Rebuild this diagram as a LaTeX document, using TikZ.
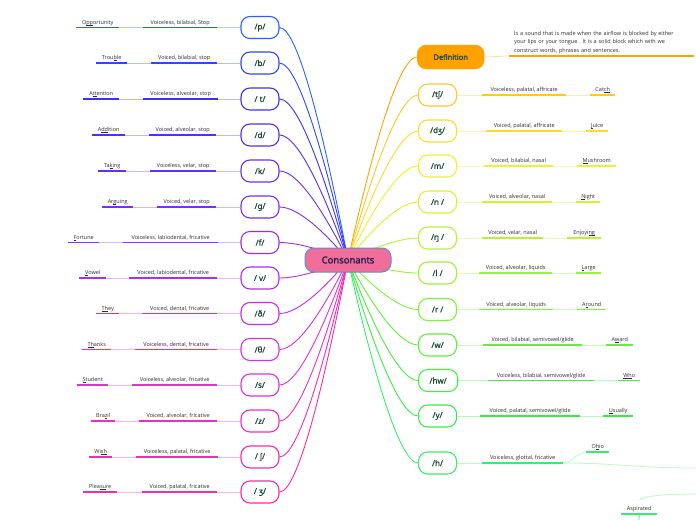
\documentclass[tikz,border=0pt]{standalone}
\usepackage{fontspec}
\setmainfont{Open Sans}[AutoFakeBold=2]
\newfontfamily\ipafont{Noto Sans}[FakeBold=1.2]
\usetikzlibrary{calc}
% left colours
\definecolor{cp}{HTML}{2B5EFF}
\definecolor{cb}{HTML}{2E48F8}
\definecolor{ct}{HTML}{3A33F0}
\definecolor{cd}{HTML}{5230EE}
\definecolor{ck}{HTML}{6630F0}
\definecolor{cg}{HTML}{7A2EF0}
\definecolor{cf}{HTML}{982EF0}
\definecolor{cv}{HTML}{AE2EF0}
\definecolor{cdh}{HTML}{C22EF0}
\definecolor{cth}{HTML}{D530E8}
\definecolor{cs}{HTML}{E52EDA}
\definecolor{cz}{HTML}{F02CC8}
\definecolor{csh}{HTML}{F52AB5}
\definecolor{czh}{HTML}{FA2AA0}
% right colours
\definecolor{cdef}{HTML}{FFA200}
\definecolor{cch}{HTML}{FFC52A}
\definecolor{cdj}{HTML}{FFDC2A}
\definecolor{cm}{HTML}{F2F02A}
\definecolor{cn}{HTML}{D5F52A}
\definecolor{cng}{HTML}{B5F530}
\definecolor{cl}{HTML}{98F532}
\definecolor{cr}{HTML}{7CF535}
\definecolor{cw}{HTML}{5EF23C}
\definecolor{chw}{HTML}{45F040}
\definecolor{cy}{HTML}{35EE45}
\definecolor{ch}{HTML}{38EE68}
% others
\definecolor{labc}{HTML}{1C4A36}
\definecolor{txtc}{HTML}{2E2E2E}
\definecolor{cpink}{HTML}{F06E9A}
\definecolor{cblue}{HTML}{5B8FC9}
\definecolor{cnavy}{HTML}{1F1F4F}
\tikzset{
 lbox/.style={draw=#1, fill=white, line width=1.1pt, rounded corners=9pt,
   minimum width=38pt, minimum height=22pt, inner xsep=11pt,
   font=\ipafont\fontsize{8}{9}\selectfont, text=labc},
 txt/.style={font=\fontsize{5.5}{6}\selectfont, text=txtc, inner xsep=0pt,
   inner ysep=2pt, text height=4pt, text depth=1pt, anchor=south west},
 uline/.style={draw=#1, line width=1.6pt},
 lline/.style={draw=#1!35, line width=0.8pt},
 conn/.style={draw=#1, line width=0.9pt},
}
\newcommand\ul[1]{\setbox0\hbox{#1}\rlap{\rule[-0.7pt]{\wd0}{0.35pt}}\box0}
\newcommand\leftitem[9]{%
 \node[lbox=c#1] (#1) at (260,#2) {#3};
 \node[txt, minimum width={#6-#5}] (#1d) at (#5,#2) {#4};
 \node[txt, minimum width={#9-#8}] (#1e) at (#8,#2) {#7};
 \draw[uline=c#1] (#1d.south west) -- (#1d.south east);
 \draw[uline=c#1] (#1e.south west) -- (#1e.south east);
 \draw[lline=c#1] (#1.west) -- (#1d.south east);
 \draw[lline=c#1] (#1d.south west) -- (#1e.south east);
 \draw[conn=c#1] (#1.east) .. controls +(20,0) and +(-20,{-(260-#2)*0.45}) .. (cc);
}
\newcommand\rightitem[9]{%
 \node[lbox=c#1, anchor=west] (#1) at (418,#2) {#3};
 \node[txt, minimum width={#6-#5}] (#1d) at (#5,#2) {#4};
 \node[txt, minimum width={#9-#8}] (#1e) at (#8,#2) {#7};
 \draw[uline=c#1] (#1d.south west) -- (#1d.south east);
 \draw[uline=c#1] (#1e.south west) -- (#1e.south east);
 \draw[lline=c#1] (#1.east) -- (#1d.south west);
 \draw[lline=c#1] (#1d.south east) -- (#1e.south west);
 \draw[conn=c#1] (#1.west) .. controls +(-20,0) and +(20,{-(260-#2)*0.45}) .. (cc);
}
\begin{document}
\begin{tikzpicture}[x=1pt,y=-1pt]
\useasboundingbox (0,0) rectangle (696,520);
\coordinate (cc) at (348,260);
% left side
\leftitem{p}{27.5}{/p/}{Voiceless, bilabial, Stop}{143}{217}{O\ul{pp}ortunity}{76}{119}
\leftitem{b}{63}{/b/}{Voiced, bilabial, stop}{151}{217}{Trou\ul{b}le}{96}{127}
\leftitem{t}{99}{/ t/}{Voiceless, alveolar, stop}{143}{218}{A\ul{tt}ention}{83}{119}
\leftitem{d}{135}{/d/}{Voiced, alveolar, stop}{149}{216}{A\ul{dd}ition}{92}{125}
\leftitem{k}{171}{/k/}{Voiceless, velar, stop}{150}{216}{Ta\ul{k}ing}{98}{126}
\leftitem{g}{207}{/g/}{Voiced, velar, stop}{157}{216}{Ar\ul{g}uing}{102}{133}
\leftitem{f}{242.5}{/f/}{Voiceless, labiodental, fricative}{123}{218}{\ul{F}ortune}{68}{99}
\leftitem{v}{278}{/ v/}{Voiced, labiodental, fricative}{129}{217}{\ul{V}owel}{79}{106}
\leftitem{dh}{313.5}{/ð/}{Voiced, dental, fricative}{142}{217}{\ul{Th}ey}{96}{119}
\leftitem{th}{349.5}{/θ/}{Voiceless, dental, fricative}{135}{217}{\ul{Th}anks}{82}{111}
\leftitem{s}{385}{/s/}{Voiceless, alveolar, fricative}{132}{217}{\ul{S}tudent}{77}{108}
\leftitem{z}{421}{/z/}{Voiced, alveolar, fricative}{139}{217}{Bra\ul{z}il}{91}{115}
\leftitem{sh}{457}{/ ʃ/}{Voiceless, palatal, fricative}{136}{218}{Wi\ul{sh}}{89}{112}
\leftitem{zh}{492}{/ ʒ/}{Voiced, palatal, fricative}{142}{217}{Plea\ul{su}re}{83}{117}
% definition
\node[fill=cdef, draw=cdef, rounded corners=9pt, minimum width=67pt, minimum height=24pt,
  font=\bfseries\fontsize{7.5}{8}\selectfont, text=labc, anchor=west] (def) at (417,57) {Definition};
\node[anchor=south west, text width=175pt, inner xsep=5pt, inner ysep=2pt, align=left,
  font=\fontsize{5.5}{8.5}\selectfont, text=txtc] (deft) at (509,56)
  {Is a sound that is made when the airflow is blocked by either\\
   your lips or your tongue.\ \ It is a solid block which with we\\
   construct words, phrases and sentences.};
\draw[uline=cdef] (deft.south west) -- (deft.south east);
\draw[lline=cdef] (def.east) -- (deft.south west);
\draw[conn=cdef] (def.west) .. controls +(-20,0) and +(20,{-(260-57)*0.45}) .. (cc);
% right side
\rightitem{ch}{95}{/tʃ/}{Voiceless, palatal, affricate}{482}{566}{Cat\ul{ch}}{590}{615}
\rightitem{dj}{131}{/dʒ/}{Voiced, palatal, affricate}{486}{562}{\ul{J}uice}{586}{608}
\rightitem{m}{166}{/m/}{Voiced, bilabial, nasal}{484}{553}{\ul{M}ushroom}{577}{616}
\rightitem{n}{202}{/n /}{Voiced, alveolar, nasal}{482}{552}{\ul{N}ight}{576}{600}
\rightitem{ng}{238}{/ŋ /}{Voiced, velar, nasal}{482}{543}{Enjoyi\ul{ng}}{567}{601}
\rightitem{l}{273}{/l /}{Voiced, alveolar, liquids}{479}{552}{\ul{L}arge}{576}{601}
\rightitem{r}{309.5}{/r /}{Voiced, alveolar, liquids}{479}{553}{A\ul{r}ound}{577}{606}
\rightitem{w}{345}{/w/}{Voiced, bilabial, semivowel/glide}{483}{582}{A\ul{w}ard}{606}{633}
\rightitem{hw}{380.5}{/hw/}{Voiceless, bilabial, semivowel/glide}{488}{594}{\ul{Wh}o}{618}{640}
\rightitem{y}{416}{/y/}{Voiced, palatal, semivowel/glide}{480}{580}{\ul{U}sually}{603}{633}
% /h/ branch
\node[lbox=ch, anchor=west] (h) at (418,463) {/h/};
\node[txt, minimum width=81] (hd) at (482,463) {Voiceless, glottal, fricative};
\node[txt, minimum width=23] (he) at (586,452) {O\ul{h}io};
\draw[uline=ch] (hd.south west) -- (hd.south east);
\draw[uline=ch] (he.south west) -- (he.south east);
\draw[lline=ch] (h.east) -- (hd.south west);
\draw[lline=ch] (hd.south east) .. controls +(9,0) and +(-9,0) .. (he.south west);
\coordinate (hout) at (696,468);
\draw[lline=ch] (hd.south east) .. controls +(50,0) and +(-60,0) .. (hout);
\draw[conn=ch] (h.west) .. controls +(-20,0) and +(20,{-(260-463)*0.45}) .. (cc);
% aspirated
\node[txt, minimum width=36] (asp) at (621,514) {Aspirated};
\draw[uline=ch] (asp.south west) -- (asp.south east);
\coordinate (ain) at (639,500);
\coordinate (aout) at (696,494);
\coordinate (adown) at (639,520);
\draw[lline=ch] (ain) .. controls +(4,-4) and +(-30,0) .. (aout);
\draw[draw=ch, line width=0.8pt] (asp.south) -- (adown);
% centre
\node[fill=cpink, draw=cblue, line width=1pt, rounded corners=9pt, minimum width=86pt,
  minimum height=24pt, font=\bfseries\fontsize{9.5}{10}\selectfont, text=cnavy] (cons) at (cc) {Consonants};
\end{tikzpicture}
\end{document}
